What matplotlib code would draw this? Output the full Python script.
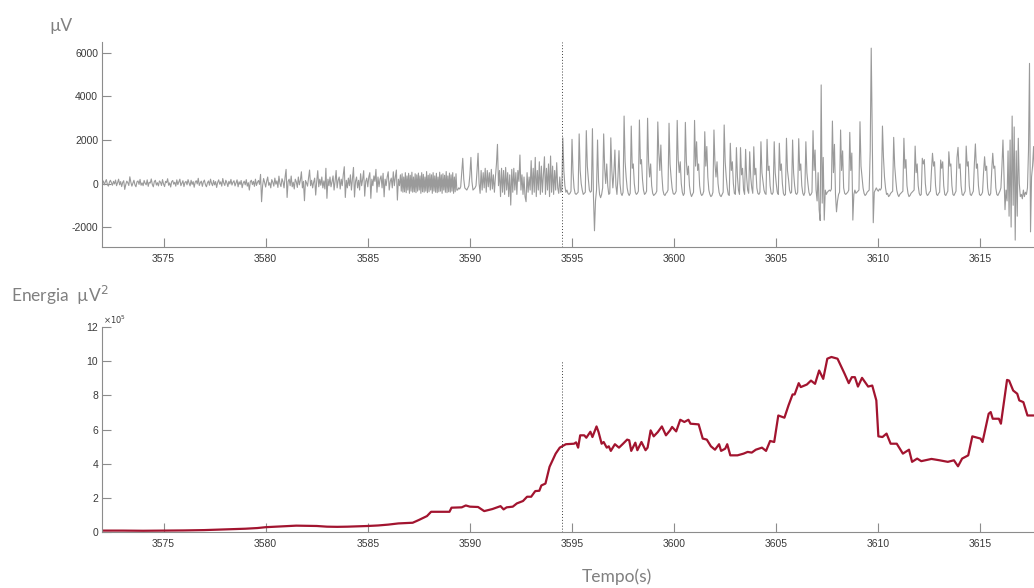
import numpy as np
import matplotlib.pyplot as plt

plt.rcParams["font.family"] = ["Liberation Sans", "DejaVu Sans"]
plt.rcParams["axes.unicode_minus"] = False

AXIS_GREY = "#8c8c8c"
TICK_TEXT = "#3a3a3a"
LABEL_GREY = "#808080"
EEG_GREY = "#9a9a9a"
ENERGY_RED = "#a2142f"
MARK_T = 3594.5  # instante marcado nos dois painéis

# --- sinal EEG (µV), trechos com passo de amostragem fixo ---
eeg_calm_t0, eeg_calm_dt = 3572.0, 0.05
eeg_calm = [
    20, 120, -60, 80, 180, -40, -120, 60, 150, 30, -80, 100, -20, 160, -100, 40, 200, -60, 90, -140,
    50, 130, -270, -50, 110, 40, -90, 310, 60, -120, 20, 150, -60, -150, 80, 120, -40, 190, -80, 30,
    -100, 140, 10, -60, 170, -130, 60, 20, 210, -40, -150, 90, 150, -70, 40, -110, 120, 60, -90, 180,
    -20, -140, 100, 40, 220, -80, 30, -160, 90, 140, -30, 60, -120, 170, -50, 80, 200, -100, 20, 130,
    -140, 50, 100, -60, 180, 20, -110, 150, -40, 90, -170, 60, 130, -20, 240, -90, 40, 110, -130, 70,
    160, -50, -150, 30, 120, -80, 200, 10, -100, 140, -60, 90, -180, 50, 170, -30, 80, -120, 230, 20,
    -90, 150, 40, -140, 100, -20, 190, -70, 60, 130, -110, 30, 170, -150, 80, -40, 140, -190, 20, 110,
    -60, 180, -120, 40, -300, 90, 150, -50, 100, -130, 200, -90, 60, 140, -40, 420, -835, -100, 230, 50,
    -160, 110, 300, -80, 40, -200, 180, 60, -120, 250, -30, 120, -180, 340, 0, -140, 220, 80, -200, 290,
    650, -640, 100, 200, -100, 345, -150, 60, -250, 200, 80, -180, 300, -60, 150, 540, -200, 100, -790, 140,
    30, -120, 250, 620, -100, 150, -200, 60, 250, -530, 100, 590, -150, 200, -80, 300, -200, 120, -250, 700,
    -680, 200, -100, 300, -150, 80, 350, -300, 100, 600, -200, 150, 300, -250, 200, -100, 400, 772, -640, 150,
    -200, 250, -100, 400, -300, 200, 740, -620, 100, 300, -200, 150, -300, 450, -100, 200, 590, -580, 100, 250,
    -150, 300, 500, -680, 200, -100, 350, 100, 650, -400, 300, -150, 200, 350, -200, 470, -610, 200, -100, 300,
    540, -300, 100, 250, -200, 540, -100, 300, 620, -760, 200, -100,
]

eeg_burst_t0, eeg_burst_dt = 3586.6, 0.04
eeg_burst = [
    400, -350, 450, -400, 300, -380, 500, -420, 350, -300,
    470, -450, 380, -350, 520, -400, 300, -380, 450, -420,
    400, -350, 480, -300, 350, -450, 500, -380, 420, -400,
    300, -350, 550, -420, 380, -380, 450, -300, 400, -450,
    500, -350, 350, -400, 470, -420, 300, -380, 520, -350,
    400, -450, 450, -300, 380, -400, 550, -420, 350, -380,
    480, -400, 400, -350, 500, -450, 300, -380, 450, -300,
]

eeg_onset_t0, eeg_onset_dt = 3589.4, 0.05
eeg_onset = [
    -300, -200, -250, -150, 500, 1157, 200, -200, -250, -300, -200, -100,
    400, 1200, 100, -300, -250, -200, -100, 600, 1390, 0,
    -450, 600, -300, 500, -200, 700, -400, 600, -150, 500,
    -300, 650, -250, 400, -400, 300, 900, 1800, -100, 600,
    -600, 700, -400, 600, -500, 740, -300, 500, -600, 400,
    -990, 650, -400, 700, -300, 500, -500, 600, 100, 1310,
    -300, 400, -500, 300, -600, -835, 500, -400, 300, -300,
    1050, -500, 700, -400, 1200, -600, 600, -300, 1000, -500,
    800, -400, 400, 1230, -500, 700, -300, 900, -600, 1265,
    -400, 800, -500, 600, -300, 958, -200, -452, 300, -400,
    -300, 2100, 600, -100, -400, -300, -450, -500, -450, -350,
]

eeg_spikes_t0, eeg_spikes_dt = 3595.0, 0.05
eeg_spikes = [
    2030, 500, -200, -450, -500, -450, -400, 2280, 600, 0,
    -300, -500, -450, -400, 2430, 800, 200, -300, -400, -350,
    2520, -600, -2170, -800, -300, 2000, 100, -500, -650, -500,
    -200, 2280, 700, 0, 900, -100, -500, -450, 2100, 600,
    -200, 500, 1540, -100, -500, 300, 1510, 0, -450, -550,
    -400, 3100, 1000, 300, -200, -450, -550, -450, 2640, 700,
    900, 0, -400, -500, -450, -350, 2920, 900, 1100, 200,
    -300, -500, -450, -350, 3000, 1000, 300, 900, -100, -450,
    -550, -500, -450, -350, 2830, 1400, 600, 1770, 400, -300,
    -500, -550, -450, -400, -300, 2770, 900, 300, -200, -450,
    -500, -450, -350, 2900, 1100, 500, 1000, 0, -400, -550,
    -450, 2810, 1000, 400, 800, -100, -450, -600, -500, -400,
    2900, 800, 1920, 600, 900, -100, -450, -550, -500, -350,
    2380, 800, 1700, 300, -300, -500, -600, -550, -400, 2460,
    900, 300, 1000, 0, -400, -550, -600, -500, -400, 2690,
    1000, 300, -200, -500, -550, 1850, 600, 1000, 0, -450,
    -500, 1650, 300, -300, -500, 1650, 400, 700, -300, -500,
    1570, 300, -300, -450, 1460, 300, -200, -450, 1690, 400,
    700, -200, -450, -500, -400, 1920, 500, 100, -300, -450,
    -500, 2030, 600, 800, -100, -450, -500, -400, 1920, 500,
    0, -400, -500, 1850, 600, 900, 0, -450, -550, -500,
    2080, 600, 200, -300, -450, -400, 2000, 500, -100, -450,
    -500, -400, 2060, 600, 900, -100, -450, -550, -400, 1920,
    500, 0, -400, -550, -500, -400, 2430, 600, 1540, -300,
    -800, 500, -1200, -1700, 4530, -900, 1200, -1680, -300, -500,
    -400, -350, -300, -350, -250, 2870, 500, 1800, -500, -1300,
    -800, -500, -400, 2460, 600, 1500, -200, -450, -500, -450,
    -400, -300, 2350, 600, 1400, -1680, -500, -300, -450, -400,
    -350, -300, 2840, 800, 300, -200, -450, -550, -500, -400,
    -350, -300, 1500, 6220, 2000, -1800, -400, -300, -200, -300,
    -350, -250, -300, -200, 2640, 1200, 300, -200, -500, -450,
    -600, -550, -450, -400, -350, 2120, 800, 200, -300, -500,
    -600, -500, -450, -400, -350, 2080, 700, 1100, -100, -450,
    -600, -550, -450, -400, -350, -300, 1720, 500, 900, -100,
    -450, -550, -500, 1160, 900, 1100, 0, -450, -550, -500,
    -400, -350, 600, 1390, 800, 1000, -100, -500, -550, -450,
    -400, 1080, 700, 1000, -100, -500, -550, -450, -350, 1460,
    800, 900, -100, -500, -550, -450, -350, 1200, 1660, 700,
    900, -100, -500, -550, -450, -350, 1720, 800, 1000, -100,
    -500, -550, -450, -350, 900, 1820, 700, 900, -100, -500,
    -550, -500, -400, 500, 1230, 600, 800, -200, -500, -550,
    -450, 600, 1390, 700, 800, -200, -500, -550, -450, -350,
    -200, 800, 2000, 400, -1200, -300, -800, 1500, -1500, 2000,
    -2000, 3100, -1000, 2600, -2600, 1500, -1500, 2080, 0, -600,
    -500, -700, -300, -600, -400, -500, -200, 1500, 5520, -2220,
    300, 800, 1700, 500, 1400, 200,
]

# --- energia do sinal (x10^5 µV^2) ---
energy_t = [
    3572.0, 3573.0, 3574.0, 3575.0, 3576.0, 3577.0, 3578.0, 3579.0, 3579.6, 3580.0,
    3580.5, 3581.0, 3581.5, 3582.0, 3582.5, 3583.0, 3583.5, 3584.0, 3584.5, 3585.0,
    3585.5, 3586.0, 3586.5, 3587.2, 3587.5, 3587.9, 3588.1, 3589.0, 3589.1, 3589.6,
    3589.8, 3590.0, 3590.4, 3590.7, 3591.1, 3591.5, 3591.65, 3591.8, 3592.1, 3592.3,
    3592.6, 3592.8, 3593.0, 3593.2, 3593.4, 3593.5, 3593.7, 3593.9, 3594.2, 3594.4,
    3594.7, 3595.1, 3595.2, 3595.3, 3595.4, 3595.6, 3595.7, 3595.9, 3596.0, 3596.2,
    3596.3, 3596.45, 3596.55, 3596.7, 3596.8, 3596.9, 3597.1, 3597.3, 3597.5, 3597.7,
    3597.8, 3597.9, 3598.1, 3598.2, 3598.4, 3598.6, 3598.7, 3598.85, 3599.0, 3599.2,
    3599.4, 3599.6, 3599.8, 3599.9, 3600.1, 3600.3, 3600.5, 3600.7, 3600.8, 3601.2,
    3601.4, 3601.6, 3601.8, 3602.0, 3602.2, 3602.3, 3602.5, 3602.6, 3602.75, 3603.1,
    3603.4, 3603.6, 3603.8, 3604.0, 3604.3, 3604.5, 3604.7, 3604.9, 3605.1, 3605.4,
    3605.6, 3605.8, 3605.9, 3606.1, 3606.2, 3606.5, 3606.7, 3606.9, 3607.1, 3607.3,
    3607.5, 3607.7, 3608.0, 3608.35, 3608.55, 3608.7, 3608.85, 3609.0, 3609.2, 3609.5,
    3609.7, 3609.9, 3610.0, 3610.2, 3610.4, 3610.6, 3610.9, 3611.2, 3611.5, 3611.65,
    3611.9, 3612.1, 3612.6, 3613.0, 3613.4, 3613.7, 3613.9, 3614.1, 3614.4, 3614.6,
    3615.0, 3615.1, 3615.4, 3615.5, 3615.6, 3615.9, 3616.0, 3616.3, 3616.4, 3616.6,
    3616.8, 3616.9, 3617.1, 3617.3, 3617.7,
]
energy_v = [
    0.10, 0.10, 0.09, 0.10, 0.11, 0.13, 0.17, 0.21, 0.25, 0.30,
    0.33, 0.36, 0.39, 0.38, 0.37, 0.33, 0.32, 0.33, 0.35, 0.37,
    0.40, 0.45, 0.52, 0.56, 0.72, 0.95, 1.20, 1.20, 1.44, 1.46,
    1.57, 1.50, 1.48, 1.24, 1.36, 1.53, 1.34, 1.46, 1.50, 1.69,
    1.83, 2.08, 2.08, 2.41, 2.43, 2.74, 2.85, 3.83, 4.60, 4.95,
    5.15, 5.18, 5.26, 4.95, 5.67, 5.67, 5.53, 5.88, 5.57, 6.19,
    5.86, 5.18, 5.28, 4.95, 5.03, 4.76, 5.15, 4.95, 5.18, 5.42,
    5.38, 4.76, 5.24, 4.80, 5.28, 4.80, 4.95, 5.96, 5.61, 5.86,
    6.19, 5.67, 5.96, 6.16, 5.90, 6.58, 6.45, 6.58, 6.35, 6.31,
    5.48, 5.42, 5.03, 4.83, 5.15, 4.76, 4.89, 5.15, 4.50, 4.50,
    4.60, 4.70, 4.66, 4.83, 4.95, 4.76, 5.34, 5.28, 6.83, 6.70,
    7.42, 8.06, 8.06, 8.72, 8.49, 8.64, 8.87, 8.68, 9.46, 8.97,
    10.15, 10.25, 10.15, 9.26, 8.72, 9.07, 9.07, 8.52, 9.03, 8.52,
    8.58, 7.71, 5.61, 5.57, 5.77, 5.18, 5.18, 4.60, 4.83, 4.12,
    4.31, 4.16, 4.29, 4.21, 4.12, 4.21, 3.86, 4.31, 4.50, 5.61,
    5.48, 5.28, 6.93, 7.03, 6.64, 6.64, 6.35, 8.91, 8.87, 8.29,
    8.10, 7.71, 7.61, 6.83, 6.83,
]

x_ticks = [3575, 3580, 3585, 3590, 3595, 3600, 3605, 3610, 3615]
eeg_ticks = [-2000, 0, 2000, 4000, 6000]
energy_ticks = [0, 2, 4, 6, 8, 10, 12]


def sampled(t0, dt, values):
    return t0 + dt * np.arange(len(values)), np.asarray(values, dtype=float)


def style_axes(ax):
    ax.spines["top"].set_visible(False)
    ax.spines["right"].set_visible(False)
    for side in ("left", "bottom"):
        ax.spines[side].set_color(AXIS_GREY)
        ax.spines[side].set_linewidth(0.8)
    ax.tick_params(direction="in", length=6.5, width=0.8, color=AXIS_GREY,
                   labelcolor=TICK_TEXT, labelsize=7.5)
    ax.tick_params(axis="x", pad=4.5)
    ax.tick_params(axis="y", pad=3.0)


pieces = [sampled(eeg_calm_t0, eeg_calm_dt, eeg_calm),
          sampled(eeg_burst_t0, eeg_burst_dt, eeg_burst),
          sampled(eeg_onset_t0, eeg_onset_dt, eeg_onset),
          sampled(eeg_spikes_t0, eeg_spikes_dt, eeg_spikes)]
eeg_t = np.concatenate([p[0] for p in pieces])
eeg_v = np.concatenate([p[1] for p in pieces])

fig = plt.figure(figsize=(10.34, 5.88), dpi=100)
ax1 = fig.add_axes([0.0989, 0.5794, 0.9011, 0.3491])
ax2 = fig.add_axes([0.0989, 0.0947, 0.9011, 0.3491])

# painel superior: sinal
ax1.plot(eeg_t, eeg_v, color=EEG_GREY, linewidth=0.8)
ax1.axvline(MARK_T, color="#404040", linestyle=(0, (1, 2)), linewidth=0.7)
ax1.set_xlim(3572.0, 3617.62)
ax1.set_ylim(-2930, 6500)
ax1.set_xticks(x_ticks)
ax1.set_yticks(eeg_ticks)
style_axes(ax1)

# painel inferior: energia
ax2.plot(energy_t, energy_v, color=ENERGY_RED, linewidth=1.6)
ax2.vlines(MARK_T, 0, 10, color="#404040", linestyle=(0, (1, 2)), linewidth=0.7)
ax2.set_xlim(3572.0, 3617.62)
ax2.set_ylim(0, 12)
ax2.set_xticks(x_ticks)
ax2.set_yticks(energy_ticks)
style_axes(ax2)
ax2.text(0.001, 1.005, r"$\times10^{5}$", transform=ax2.transAxes,
         fontsize=6, color=TICK_TEXT, ha="left", va="bottom")

# rótulos
label_font = ["Lato", "DejaVu Sans"]
fig.text(49 / 1034, 1 - 30.7 / 588, "µV", family=label_font, fontsize=12.5,
         color=LABEL_GREY, ha="left", va="baseline")
fig.text(11 / 1034, 1 - 301.7 / 588, "Energia  µV$^2$", family=label_font,
         fontsize=12.5, color=LABEL_GREY, ha="left", va="baseline")
fig.text(617 / 1034, 1 - 582 / 588, "Tempo(s)", family=label_font,
         fontsize=12.5, color=LABEL_GREY, ha="center", va="baseline")

fig.savefig("out.png", dpi=100)
